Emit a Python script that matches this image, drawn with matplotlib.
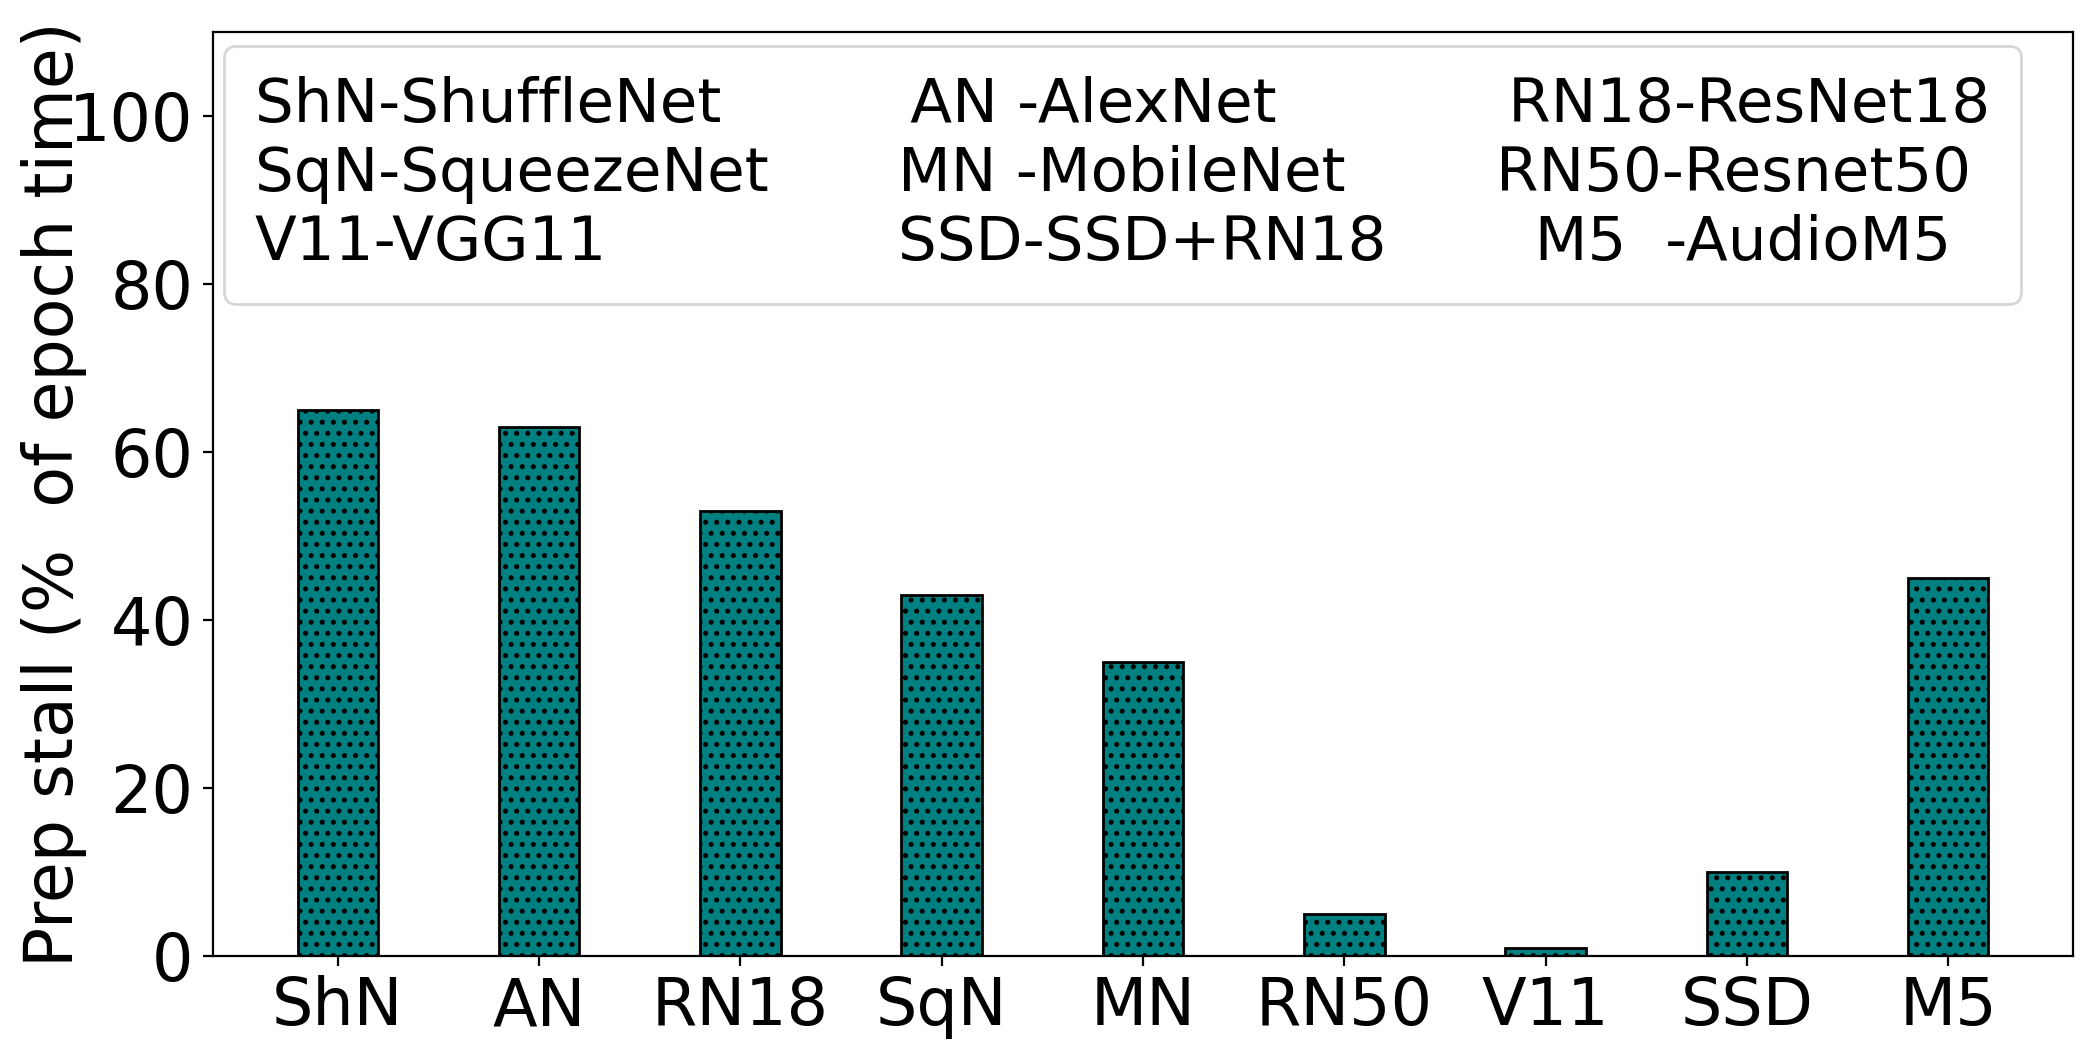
import matplotlib
matplotlib.use("Agg")
import matplotlib.pyplot as plt
from matplotlib.patches import Rectangle

categories = ["ShN", "AN", "RN18", "SqN", "MN", "RN50", "V11", "SSD", "M5"]
stall = [65, 63, 53, 43, 35, 5, 1, 10, 45]
legend_labels = [
    "ShN-ShuffleNet", "SqN-SqueezeNet ", "V11-VGG11",
    "\u2009AN -AlexNet", "MN -MobileNet", "SSD-SSD+RN18",
    "\u2009RN18-ResNet18", "RN50-Resnet50", "  M5  -AudioM5",
]

fig = plt.figure(figsize=(10.47, 5.295), dpi=200)
ax = fig.add_axes([213/2094, 1-956/1059, (2073-213)/2094, (956-32)/1059])

x = list(range(len(categories)))
ax.bar(x, stall, width=0.4, color="teal", edgecolor="black", hatch="...", linewidth=1.0)
ax.set_xticks(x)
ax.set_xticklabels(categories, fontsize=23.5)
ax.tick_params(axis="y", labelsize=23.5)
ax.set_ylim(0, 110)
ax.set_yticks([0, 20, 40, 60, 80, 100])
ax.set_ylabel("Prep stall (%  of epoch time)", fontsize=24)
ax.yaxis.set_label_coords(-0.068, 0.5)

handles = [Rectangle((0, 0), 0, 0, visible=False) for _ in legend_labels]
leg = ax.legend(handles, legend_labels, ncol=3, loc="upper left",
                bbox_to_anchor=(0.006, 0.985), borderaxespad=0,
                fontsize=22, handlelength=0, handletextpad=0,
                columnspacing=1.8, labelspacing=0.16, borderpad=0.5)

fig.savefig("out.png", dpi=200)
